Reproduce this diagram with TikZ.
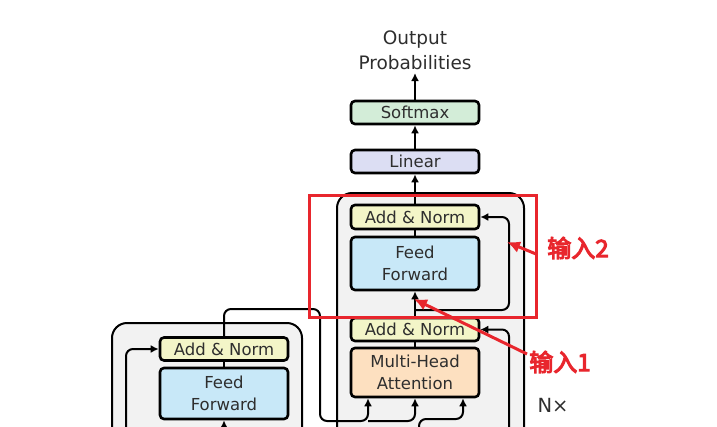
\documentclass[tikz,border=0pt]{standalone}
\usepackage{fontspec}
\setsansfont{DejaVu Sans}
\newfontfamily\cjk{Noto Sans CJK SC}
\newcommand\heavytext[1]{\special{pdf:literal direct 2 Tr 1.1 w}#1\special{pdf:literal direct 0 Tr 1 w}}
\usetikzlibrary{arrows.meta}
\definecolor{txt}{HTML}{2E2E2E}
\definecolor{smx}{HTML}{D3EDD8}
\definecolor{lin}{HTML}{DCDEF3}
\definecolor{ann}{HTML}{F3F5C8}
\definecolor{ffc}{HTML}{C8E8F8}
\definecolor{mhc}{HTML}{FDE0C0}
\definecolor{blk}{HTML}{F2F2F2}
\definecolor{rd}{HTML}{E8262D}
\begin{document}
\begin{tikzpicture}[x=1pt,y=-1pt,
  box/.style={draw=black, line width=2.6pt, rounded corners=4pt, minimum width=128pt, inner sep=0pt,
    text=txt, align=center, font=\sffamily\fontsize{16.5}{22}\selectfont},
  blockbg/.style={draw=black, line width=2pt, fill=blk, rounded corners=15pt},
  conn/.style={draw=black, line width=2pt, rounded corners=7pt},
  arr/.style={conn, -{Latex[length=8pt,width=8pt]}},
  lbl/.style={text=txt, align=center, font=\sffamily\fontsize{18.5}{25}\selectfont},
  redarr/.style={draw=rd, line width=3pt, -{Latex[length=13pt,width=12pt]}},
  redlbl/.style={text=rd, font=\cjk\fontsize{24}{24}\selectfont}
]
\useasboundingbox (0,0) rectangle (717,426);
\clip (0,0) rectangle (717,426);
% blocks
\draw[blockbg] (337,193) rectangle (524,460);
\draw[blockbg] (112,323) rectangle (302,460);
% text top
\node[lbl] (out) at (415,50) {Output\\Probabilities};
% decoder nodes
\node[box, fill=smx, minimum height=23pt] (softmax) at (415,112.5) {Softmax};
\node[box, fill=lin, minimum height=23pt] (linear) at (415,161.5) {Linear};
\node[box, fill=ann, minimum height=24pt] (an3) at (415,217) {Add \& Norm};
\node[box, fill=ffc, minimum height=53pt] (ff2) at (415,263.5) {Feed\\Forward};
\node[box, fill=ann, minimum height=23pt] (an2) at (415,329.5) {Add \& Norm};
\node[box, fill=mhc, minimum height=49pt] (mha) at (415,372.5) {Multi-Head\\Attention};
% encoder nodes
\node[box, fill=ann, minimum height=23pt] (ean) at (224,349) {Add \& Norm};
\node[box, fill=ffc, minimum height=51pt] (eff) at (224,393.5) {Feed\\Forward};
\node[lbl, font=\sffamily\fontsize{19.5}{25}\selectfont] (nx) at (553,405) {N×};
% coordinates
\coordinate (r1) at (415,310);
\coordinate (r1a) at (509,310);
\coordinate (r2) at (509,460);
\coordinate (er) at (126,460);
\coordinate (ein) at (224,440);
\coordinate (e1) at (224,309);
\coordinate (e2) at (320,309);
\coordinate (e3) at (320,421);
\coordinate (k1) at (368,421);
\coordinate (v1) at (415,421);
\coordinate (q0) at (419,440);
\coordinate (q1) at (419,419);
\coordinate (q2) at (463,419);
% decoder connectors
\draw[arr] (softmax.north) -- (out.south);
\draw[arr] (linear.north) -- (softmax.south);
\draw[arr] (an3.north) -- (linear.south);
\draw[conn] (ff2.north) -- (an3.south);
\draw[arr] (an2.north) -- (ff2.south);
\draw[arr] (r1) -- (r1a) -- (r1a |- an3.east) -- (an3.east);
\draw[conn] (mha.north) -- (an2.south);
\draw[arr] (r2) -- (r2 |- an2.east) -- (an2.east);
% encoder connectors
\draw[conn] (eff.north) -- (ean.south);
\draw[arr] (er) -- (er |- ean.west) -- (ean.west);
\draw[arr] (ein) -- (eff.south);
\draw[arr] (ean.north) -- (e1) -- (e2) -- (e3) -- (k1) -- (k1 |- mha.south);
\draw[arr] (k1) -- (v1) -- (v1 |- mha.south);
\draw[arr] (q0) -- (q1) -- (q2) -- (q2 |- mha.south);
% red annotations
\draw[draw=rd, line width=3pt] (309,195) rectangle (536,317);
\node[redlbl] (in2) at (578,248) {\heavytext{输入2}};
\node[redlbl] (in1) at (560,362) {\heavytext{输入1}};
\coordinate (t2) at (507,242);
\coordinate (s2) at (536,254);
\coordinate (t1) at (414,299);
\coordinate (s1) at (527,354);
\draw[redarr] (s2) -- (t2);
\draw[redarr] (s1) -- (t1);
\end{tikzpicture}
\end{document}
